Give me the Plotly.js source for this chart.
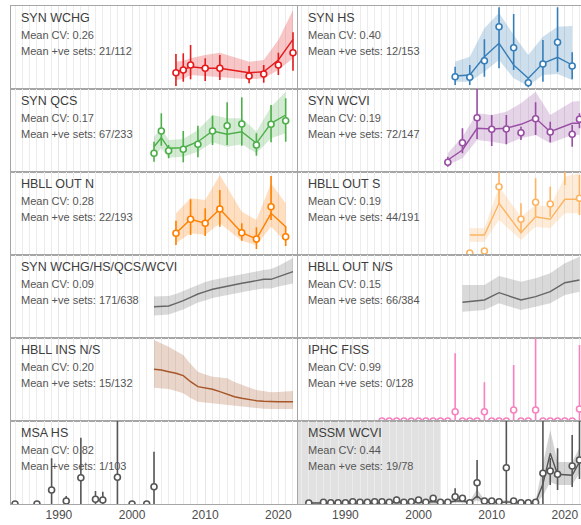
<!DOCTYPE html>
<html><head><meta charset="utf-8">
<script src="https://cdn.plot.ly/plotly-3.0.1.min.js"></script>
<style>html,body{margin:0;padding:0;background:#fff}#plot{width:581px;height:525px}</style>
</head><body><div id="plot"></div>
<script>
// ---------- labels ----------
const panelNames = ["SYN WCHG","SYN HS","SYN QCS","SYN WCVI","HBLL OUT N","HBLL OUT S",
  "SYN WCHG/HS/QCS/WCVI","HBLL OUT N/S","HBLL INS N/S","IPHC FISS","MSA HS","MSSM WCVI"];
const meanCV = ["0.26","0.40","0.17","0.19","0.28","0.19","0.09","0.15","0.20","0.99","0.82","0.44"];
const posSets = ["21/112","12/153","67/233","72/147","22/193","44/191","171/638","66/384","15/132","0/128","1/103","19/78"];
const xTicks = [1990, 2000, 2010, 2020];
const panelMax = [83,83,83,83,83,83,83,83,83,83,83,83];

// ---------- SYN WCHG ----------
const wchgYears = [2006,2007,2008,2010,2012,2016,2018,2020,2022];
const wchgPt  = [16.3,19,24,20.7,20.7,13,15,24,36.3];
const wchgLo  = [3,7.3,9.7,8,9,5.7,6.3,14,18.3];
const wchgHi  = [35,35.7,44,30.7,34,23,24,36.3,56.7];
const wchgEst = [17.3,19,22.3,20.7,20.7,16.3,17.3,29,49.7];
const wchgEstLo = [9,10,14,13,12.3,9.7,10.7,19,30.7];
const wchgEstHi = [27.3,28.3,30.7,34,36.3,27.3,29,49,79];

// ---------- SYN HS ----------
const hsYears = [2005,2007,2009,2011,2013,2015,2017,2019,2021];
const hsPt  = [12.3,11.7,28.3,62.3,41.3,6.3,25,46.7,23];
const hsLo  = [4,4,12.3,20.7,19,1.7,7.3,17.3,9.7];
const hsHi  = [22.3,24,49.7,81.7,75,11.7,49,81.7,36.7];
const hsEst = [13,14,32.3,45.7,24,10.7,25.7,31.7,24];
const hsEstLo = [7.3,7.3,17.3,29,10.7,3,14,15,9];
const hsEstHi = [27.3,32.3,60.7,76.3,54,34,52.3,62.3,63];

// ---------- SYN QCS ----------
const qcsYears = [2003,2004,2005,2007,2009,2011,2013,2015,2017,2019,2021];
const qcsPt  = [18.7,41,21.3,22.7,27.7,41,46.3,48,27,47.7,51.3];
const qcsLo  = [10.3,26.3,13.7,9.7,14.7,27,27,26.3,16.3,29.7,30.3];
const qcsHi  = [30.3,58.7,27,41,46.3,56.3,69.7,74.7,38.7,67,73.7];
const qcsEst = [25.3,34.3,23.7,24.3,30.3,41,37.7,40.3,28.7,48.7,57];
const qcsEstLo = [15.3,23.7,14.3,15.3,20.3,29.7,25.3,27.7,18.7,33.7,38.7];
const qcsEstHi = [35.3,43.7,32,33,42,57,53.7,53.7,40.3,65.3,80.3];

// ---------- SYN WCVI ----------
const wcviYears = [2004,2006,2008,2010,2012,2014,2016,2018,2021,2022];
const wcviPt  = [9.7,29.3,54.3,42.7,43,39.3,53.3,40,37.7,52.7];
const wcviLo  = [5.3,18.7,33,26,27.7,32,37,29.7,25.3,43.7];
const wcviHi  = [15.3,43.7,90,57,57,45.3,69.7,50.3,47,58.7];
const wcviEst = [12,22,43.7,43,43.7,47.7,53.7,40.3,48.7,48.7];
const wcviEstLo = [7,13.7,32,30.3,27.7,33.7,37,28.7,37,37];
const wcviEstHi = [18.7,35.3,58.7,57,60.3,68.7,80.3,57,70.3,71];

// ---------- HBLL OUT N ----------
const hbnYears = [2006,2008,2010,2012,2015,2017,2019,2021];
const hbnPt  = [21.7,35.7,31.7,46,22.3,16,48.3,18.3];
const hbnLo  = [10,20,19,28.3,14.3,6,35,9];
const hbnHi  = [34.3,55.7,46.7,65,31.7,27.7,79,29];
const hbnEst = [21.7,35.7,31.7,46,22.3,16,41.7,28.3];
const hbnEstLo = [11.7,21.7,20,31.7,14.3,10,28.3,13.3];
const hbnEstHi = [41.7,56.7,55,80,43.3,35,71.7,51.7];

// ---------- HBLL OUT S ----------
const hbsYears = [2007,2009,2011,2014,2016,2018,2020,2022];
const hbsPt  = [2,4,68.3,35.7,52.7,51,95,56.7];
const hbsLo  = [0.5,1.5,51.7,21.7,38.3,38.3,70,40];
const hbsHi  = [4,7,100,51.7,76.7,68.3,130,80];
const hbsEst = [20,20,51.7,22.3,38.3,35.7,55.7,55.7];
const hbsEstLo = [13.3,13.3,35,15,28.3,26.7,41.7,41.7];
const hbsEstHi = [26.7,26.7,68.3,38.3,50,48.3,78.3,81.7];

// ---------- SYN combined ----------
const synAllYears = [2003,2004,2005,2006,2007,2008,2009,2010,2011,2012,2013,2014,2015,2016,2017,2018,2019,2020,2021,2022];
const synAllEst = [31.3,31.7,32,34.7,37.3,40.7,44,46.3,48.7,50.3,52,53.3,54.7,56,57.3,58.7,58.7,61.3,64,66.3];
const synAllLo  = [22.5,23,23.5,26,28.5,32,35.5,37.5,40,41.5,43,44.5,46,47,48.5,49.5,49.5,51.5,53,54.5];
const synAllHi  = [41.5,41.5,42,44,47,50,53.5,56,58,59.5,61,62,63.5,65,66.5,68,69,72,76,80];

// ---------- HBLL OUT N/S ----------
const hbAllYears = [2006,2009,2011,2014,2016,2018,2020,2022];
const hbAllEst = [35.7,38,45.3,38,41.3,46.3,55.3,58];
const hbAllLo  = [26.3,28,34.7,28,31.3,34.7,43,46.3];
const hbAllHi  = [53,53,62,56.3,59.7,64.7,74.7,81.3];

// ---------- HBLL INS N/S ----------
const insYears = [2003,2004,2005,2006,2007,2008,2009,2010,2011,2012,2013,2014,2015,2016,2017,2018,2019,2020,2021,2022];
const insEst = [51.7,51,49.3,47.7,45.3,39.3,34.3,32.7,31.7,29.3,26.7,24.3,22.7,21.3,20.3,19.7,19.3,19.3,19.3,19.3];
const insLo  = [33.3,33,32,30,27.7,23,19.3,18.5,17.7,17,16,15,14.3,13.5,12.7,12.3,12,12,12,12];
const insHi  = [81,78,74.3,70,66,57,49.3,46.5,44.3,43.5,42.7,39,36,33.5,31,29.5,28.7,29,29.3,30];

// ---------- IPHC FISS ----------
const iphcYears = [1995,1996,1997,1998,1999,2000,2001,2002,2003,2004,2005,2006,2007,2008,2009,2010,2011,2012,2013,2014,2015,2016,2017,2018,2019,2020,2021,2022];
const iphcPt = [0,0,0,0,0,0,0,0,0,0,9.3,0,0,0,9.3,0,0,0,11,0,0,11,0,0,0,0,0,12];
const iphcLo = [0,0,0,0,0,0,0,0,0,0,0,0,0,0,0,0,0,0,0,0,0,0,0,0,0,0,0,0];
const iphcHi = [0,0,0,0,0,0,0,0,0,0,67.7,0,0,0,38.7,0,0,0,56,0,0,84,0,0,0,0,0,76];

// ---------- MSA HS ----------
const msaYears = [1984,1987,1989,1991,1993,1995,1996,1998,2000,2002,2003];
const msaPt = [0,0,14,3,26.3,4.7,4,26.7,0,0,17.3];
const msaLo = [0,0,0,0,0,0,0,0,0,0,0];
const msaHi = [0,0,45.7,8,66.3,13,12.3,90,0,0,52.3];

// ---------- MSSM WCVI ----------
const mssmYears = [1985,1987,1988,1989,1990,1991,1992,1993,1994,1995,1996,1997,1998,1999,2000,2001,2002,2003,2004,2005,2006,2007,2008,2009,2010,2011,2012,2013,2014,2015,2016,2017,2018,2019,2021,2022];
const mssmPt = [1,1.7,1.3,1.3,1.3,2.3,1.7,1.7,2.3,2.3,1.7,4,1.7,2.3,4,1.7,5.7,1.7,1.7,7.3,5.7,1.3,21.3,3,3,2.3,36.3,3,1.3,1.3,1.7,30.7,33,29.7,38,44];
const mssmLo = [0,0.5,0,0,0,0.5,0.5,0.5,0.5,0.5,0.5,1,0.5,0.5,1,0.5,2,0.5,0.5,2,2,0,5.7,1,1,0.5,0,1,0,0,0.5,0,19,14,17,25];
const mssmHi = [2,3,2.5,2.5,2.5,4,3,3,4,4,3,7.5,3,4,7,3,9,3,3,15.7,9,2.5,44,5,5,4,95,5,2.5,2.5,3,95,46,55.7,69,95];
const mssmEst = [1,1,1,1,1,1.2,1.2,1.2,1.3,1.3,1.3,1.8,1.5,1.5,2,1.5,2.5,1.5,1.5,3,3,1.5,8,2,2,1.5,2,1.5,1.2,1.2,1.5,20,50.7,29.7,28.7,42];
const mssmEstLo = [0.3,0.3,0.3,0.3,0.3,0.4,0.4,0.4,0.5,0.5,0.5,0.7,0.5,0.5,0.8,0.5,1,0.5,0.5,1.2,1.2,0.5,3.5,0.8,0.8,0.5,0.8,0.5,0.4,0.4,0.5,8,22,19,19,31];
const mssmEstHi = [2,2,2,2,2,2.5,2.5,2.5,2.7,2.7,2.7,3.5,3,3,4,3,5,3,3,6,6,3,15,4,4,3,4,3,2.5,2.5,3,40,74,42,42,56];
const mssmShadeEnd = 2003;

// ---------- drawing ----------
const W = 581, H = 525;
const colLeft = [11, 297.5], colWidth = [286, 283.5];
const rowTop0 = 6, rowH = 83;
const xStart = 1983.45, pxPerYear = 7.315;
const font = "Liberation Sans, Arial, Helvetica, sans-serif";

const cols = ["#E41A1C","#377EB8","#4DAF4A","#984EA3","#FF7F00","#FDB462","#666666","#666666","#A65628","#F781BF","#555555","#555555"];
function rgba(hex, a){const n=parseInt(hex.slice(1),16);return `rgba(${n>>16&255},${n>>8&255},${n&255},${a})`;}

const panels = [
  {years:wchgYears, pt:wchgPt, lo:wchgLo, hi:wchgHi, est:wchgEst, estLo:wchgEstLo, estHi:wchgEstHi},
  {years:hsYears, pt:hsPt, lo:hsLo, hi:hsHi, est:hsEst, estLo:hsEstLo, estHi:hsEstHi},
  {years:qcsYears, pt:qcsPt, lo:qcsLo, hi:qcsHi, est:qcsEst, estLo:qcsEstLo, estHi:qcsEstHi},
  {years:wcviYears, pt:wcviPt, lo:wcviLo, hi:wcviHi, est:wcviEst, estLo:wcviEstLo, estHi:wcviEstHi},
  {years:hbnYears, pt:hbnPt, lo:hbnLo, hi:hbnHi, est:hbnEst, estLo:hbnEstLo, estHi:hbnEstHi},
  {years:hbsYears, pt:hbsPt, lo:hbsLo, hi:hbsHi, est:hbsEst, estLo:hbsEstLo, estHi:hbsEstHi},
  {years:synAllYears, est:synAllEst, estLo:synAllLo, estHi:synAllHi},
  {years:hbAllYears, est:hbAllEst, estLo:hbAllLo, estHi:hbAllHi},
  {years:insYears, est:insEst, estLo:insLo, estHi:insHi},
  {years:iphcYears, pt:iphcPt, lo:iphcLo, hi:iphcHi},
  {years:msaYears, pt:msaPt, lo:msaLo, hi:msaHi},
  {years:mssmYears, pt:mssmPt, lo:mssmLo, hi:mssmHi, est:mssmEst, estLo:mssmEstLo, estHi:mssmEstHi},
];

const traces = [], annotations = [], shapes = [];
const layout = {width:W, height:H, margin:{l:0,r:0,t:0,b:0}, paper_bgcolor:"#fff", plot_bgcolor:"#fff",
  showlegend:false, font:{family:font}};

panels.forEach((p, i) => {
  const col = i % 2, row = Math.floor(i / 2), n = i + 1;
  const xa = "x" + (n === 1 ? "" : n), ya = "y" + (n === 1 ? "" : n);
  const c = cols[i];
  const top = rowTop0 + row * rowH, bot = top + rowH;
  const x0 = colLeft[col], x1 = Math.min(x0 + colWidth[col], W);
  layout["xaxis" + (n === 1 ? "" : n)] = {
    domain:[x0 / W, x1 / W], range:[xStart, xStart + (x1 - x0) / pxPerYear], anchor:ya,
    tickvals:xTicks, ticktext:xTicks.map(String), showticklabels: row === 5,
    ticks:"", tickfont:{size:12, color:"#4d4d4d", family:font},
    showgrid:true, gridcolor:"#e6e6e6", gridwidth:1,
    minor:{dtick:1, tick0:1990, showgrid:true, gridcolor:"#ececec", gridwidth:1},
    showline:true, mirror:true, linecolor:"#a6a6a6", linewidth:1, zeroline:false, fixedrange:true
  };
  layout["yaxis" + (n === 1 ? "" : n)] = {
    domain:[(H - bot) / H, (H - top) / H], range:[0, panelMax[i]], anchor:xa,
    showgrid:false, showticklabels:false, ticks:"", zeroline:false,
    showline:true, mirror:true, linecolor:"#a6a6a6", linewidth:1, fixedrange:true
  };
  if (i === 11) {
    shapes.push({type:"rect", xref:xa, yref:ya + " domain", x0:xStart - 1, x1:mssmShadeEnd, y0:0, y1:1,
      fillcolor:"rgba(170,170,170,0.35)", line:{width:0}, layer:"below"});
  }
  if (p.est) {
    traces.push({x:p.years, y:p.estLo, xaxis:xa, yaxis:ya, mode:"lines", line:{width:0, color:c}, hoverinfo:"skip"});
    traces.push({x:p.years, y:p.estHi, xaxis:xa, yaxis:ya, mode:"lines", line:{width:0, color:c}, fill:"tonexty",
      fillcolor:rgba(c, 0.25), hoverinfo:"skip"});
    traces.push({x:p.years, y:p.est, xaxis:xa, yaxis:ya, mode:"lines", line:{width:1.4, color:c}, hoverinfo:"skip"});
  }
  if (p.pt) {
    traces.push({x:p.years, y:p.pt, xaxis:xa, yaxis:ya, mode:"markers", cliponaxis:true,
      marker:{symbol:"circle", size:6, color:"#fff", line:{color:c, width:1.6}},
      error_y:{type:"data", symmetric:false, array:p.hi.map((h, k) => h - p.pt[k]),
        arrayminus:p.lo.map((l, k) => p.pt[k] - l), color:c, thickness:1.6, width:0},
      hoverinfo:"skip"});
  }
  const xr = xa + " domain", yr = ya + " domain";
  const lx = 8 / (x1 - x0);
  annotations.push({xref:xr, yref:yr, x:lx, y:1 - 12 / rowH, xanchor:"left", yanchor:"middle", showarrow:false,
    text:panelNames[i], font:{size:12.5, color:"#3d3d3d", family:font}});
  annotations.push({xref:xr, yref:yr, x:lx, y:1 - 29 / rowH, xanchor:"left", yanchor:"middle", showarrow:false,
    text:"Mean CV: " + meanCV[i], font:{size:11, color:"#555", family:font}});
  annotations.push({xref:xr, yref:yr, x:lx, y:1 - 44.5 / rowH, xanchor:"left", yanchor:"middle", showarrow:false,
    text:"Mean +ve sets: " + posSets[i], font:{size:11, color:"#555", family:font}});
});
layout.annotations = annotations;
layout.shapes = shapes;
Plotly.newPlot("plot", traces, layout, {staticPlot:true, displayModeBar:false});
</script></body></html>
